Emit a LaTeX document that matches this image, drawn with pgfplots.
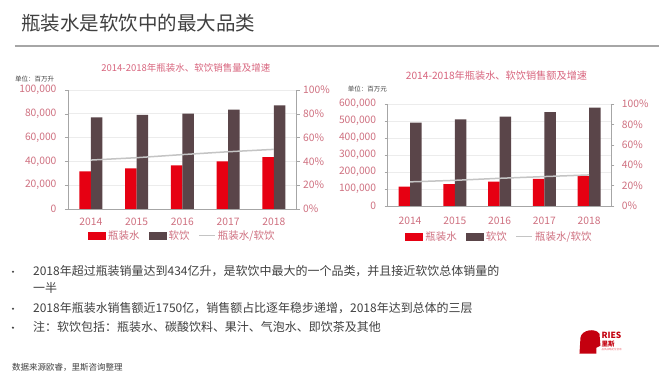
\documentclass[border=0pt]{standalone}
\usepackage{pgfplots}
\pgfplotsset{compat=1.18}
\usepackage{fontspec}
\setmainfont{Noto Sans CJK SC}
\definecolor{barred}{HTML}{E60012}
\definecolor{bardark}{HTML}{5A4549}
\definecolor{linegray}{HTML}{C4C4C4}
\definecolor{tickpink}{HTML}{CF7080}
\definecolor{titlepink}{HTML}{D8657E}
\definecolor{txt}{HTML}{404040}
\definecolor{axgray}{HTML}{A6A6A6}
\pgfplotsset{
  slidebar/.style={
    scale only axis,
    ybar=0pt, bar width=11.5bp,
    xmin=-0.5, xmax=4.5,
    xtick={0,...,4}, xticklabels={2014,2015,2016,2017,2018},
    axis x line*=bottom, axis y line*=left,
    axis line style={draw=axgray, line width=0.6bp, -},
    major x tick style={draw=none},
    extra x ticks={-0.5,0.5,1.5,2.5,3.5,4.5},
    extra x tick labels={},
    extra x tick style={major tick length=4bp, tick align=outside, tick style={draw=axgray}},
    ymajorgrids, grid style={draw=gray!15, line width=0.4bp},
    tick align=outside, major tick length=3bp,
    ytick style={draw=axgray},
    scaled y ticks=false,
    tick label style={font=\fontsize{10.3bp}{12bp}\selectfont, text=tickpink},
    yticklabel style={xshift=-5bp},
    /pgf/number format/assume math mode=true,
    /pgf/number format/fixed,
    /pgf/number format/precision=0,
    /pgf/number format/1000 sep={,},
    legend style={draw=none, fill=none, legend columns=3,
      font=\fontsize{10.5bp}{12bp}\selectfont\color{tickpink},
      /tikz/every even column/.append style={column sep=7bp}},
  },
  slideline/.style={
    scale only axis,
    xmin=-0.5, xmax=4.5,
    axis x line=none, axis y line*=right,
    axis line style={draw=axgray, line width=0.6bp, -},
    ymin=0, ymax=100, ytick={0,20,...,100},
    yticklabel={\pgfmathprintnumber{\tick}\%},
    tick align=outside, major tick length=3bp,
    ytick style={draw=axgray},
    tick label style={font=\fontsize{10.3bp}{12bp}\selectfont, text=tickpink},
    /pgf/number format/assume math mode=true,
    /pgf/number format/fixed,
    /pgf/number format/precision=0,
  },
  barleg/.style={legend image code/.code={\fill[##1] (0bp,-4bp) rectangle (18bp,4bp);}},
  lineleg/.style={legend image code/.code={\draw[##1] (0bp,0bp) -- (16bp,0bp);}},
}
\begin{document}
\begin{tikzpicture}
\fill[white] (0bp,0bp) rectangle (660bp,-383bp);
% slide title
\node[anchor=west, text=txt, font=\fontsize{19.5bp}{22bp}\selectfont, inner sep=0] at (21bp,-23bp) {瓶装水是软饮中的最大品类};
\draw[gray!70, line width=1.2bp] (15bp,-46bp) -- (660bp,-46bp);

% ---------- left chart ----------
\node[text=titlepink, font=\fontsize{9.5bp}{11bp}\selectfont, inner sep=0] at (186bp,-68bp) {2014-2018年瓶装水、软饮销售量及增速};
\node[anchor=west, text=txt, font=\fontsize{6.5bp}{8bp}\selectfont, inner sep=0] at (15bp,-79bp) {单位：百万升};
\begin{axis}[slidebar, at={(68bp,-209bp)}, anchor=south west, width=229bp, height=119bp,
  ymin=0, ymax=100000, ytick={0,20000,...,100000},
  xticklabel style={yshift=-3bp},
  legend style={at={(0.5,0)}, anchor=center, yshift=-27bp}]
\addplot[fill=barred, draw=none, barleg] coordinates {(0,31500) (1,34000) (2,36500) (3,40000) (4,43400)};
\addlegendentry{瓶装水}
\addplot[fill=bardark, draw=none, barleg] coordinates {(0,77000) (1,79000) (2,80000) (3,83500) (4,87000)};
\addlegendentry{软饮}
\addlegendimage{lineleg, linegray, line width=1.4bp}
\addlegendentry{瓶装水/软饮}
\end{axis}
\begin{axis}[slideline, at={(68bp,-209bp)}, anchor=south west, width=229bp, height=119bp]
\addplot[linegray, line width=1.5bp, mark=none] coordinates {(0,41) (1,43) (2,45.6) (3,48) (4,50)};
\end{axis}

% ---------- right chart ----------
\node[text=titlepink, font=\fontsize{10.2bp}{12bp}\selectfont, inner sep=0] at (497bp,-76bp) {2014-2018年瓶装水、软饮销售额及增速};
\node[anchor=west, text=txt, font=\fontsize{6.5bp}{8bp}\selectfont, inner sep=0] at (348bp,-89bp) {单位：百万元};
\begin{axis}[slidebar, at={(388bp,-206bp)}, anchor=south west, width=224bp, height=102bp,
  ymin=0, ymax=600000, ytick={0,100000,...,600000},
  xticklabel style={yshift=-5bp},
  legend style={at={(0.5,0)}, anchor=center, yshift=-31bp}]
\addplot[fill=barred, draw=none, barleg] coordinates {(0,113000) (1,127000) (2,143000) (3,158000) (4,175000)};
\addlegendentry{瓶装水}
\addplot[fill=bardark, draw=none, barleg] coordinates {(0,490000) (1,509000) (2,525000) (3,551000) (4,578000)};
\addlegendentry{软饮}
\addlegendimage{lineleg, linegray, line width=1.4bp}
\addlegendentry{瓶装水/软饮}
\end{axis}
\begin{axis}[slideline, at={(388bp,-206bp)}, anchor=south west, width=224bp, height=102bp,
  yticklabel style={xshift=4bp}]
\addplot[linegray, line width=1.5bp, mark=none] coordinates {(0,23.5) (1,25) (2,27) (3,28.7) (4,30.3)};
\end{axis}

% ---------- bullets ----------
\begin{scope}[every node/.style={anchor=west, text=txt, inner sep=0, font=\fontsize{12bp}{14bp}\selectfont}]
\node at (33bp,-271bp) {2018年超过瓶装销量达到434亿升，是软饮中最大的一个品类，并且接近软饮总体销量的};
\node at (33bp,-288bp) {一半};
\node at (33bp,-308bp) {2018年瓶装水销售额近1750亿，销售额占比逐年稳步递增，2018年达到总体的三层};
\node at (33bp,-327bp) {注：软饮包括：瓶装水、碳酸饮料、果汁、气泡水、即饮茶及其他};
\end{scope}
\fill[txt] (13bp,-272bp) circle (1.2bp);
\fill[txt] (13bp,-309bp) circle (1.2bp);
\fill[txt] (13bp,-328bp) circle (1.2bp);
\node[anchor=west, text=txt, inner sep=0, font=\fontsize{8.5bp}{10bp}\selectfont] at (12bp,-368bp) {数据来源欧睿，里斯咨询整理};

% ---------- logo ----------
\fill[barred!85!black] (580bp,-354bp) -- (581bp,-338bp) .. controls (582bp,-330bp) and (596bp,-328bp) .. (600bp,-334bp) -- (601bp,-346bp) -- (597bp,-348bp) -- (597bp,-354bp) -- cycle;
\node[anchor=west, text=barred!85!black, inner sep=0, font=\bfseries\fontsize{8.5bp}{9bp}\selectfont] at (602bp,-336bp) {RIES};
\node[anchor=west, text=barred!85!black, inner sep=0, font=\bfseries\fontsize{6.5bp}{7bp}\selectfont] at (602bp,-344bp) {里斯};
\node[anchor=west, text=barred!60, inner sep=0, font=\fontsize{2.5bp}{3bp}\selectfont] at (602bp,-350bp) {品类战略定位咨询};
\end{tikzpicture}
\end{document}
